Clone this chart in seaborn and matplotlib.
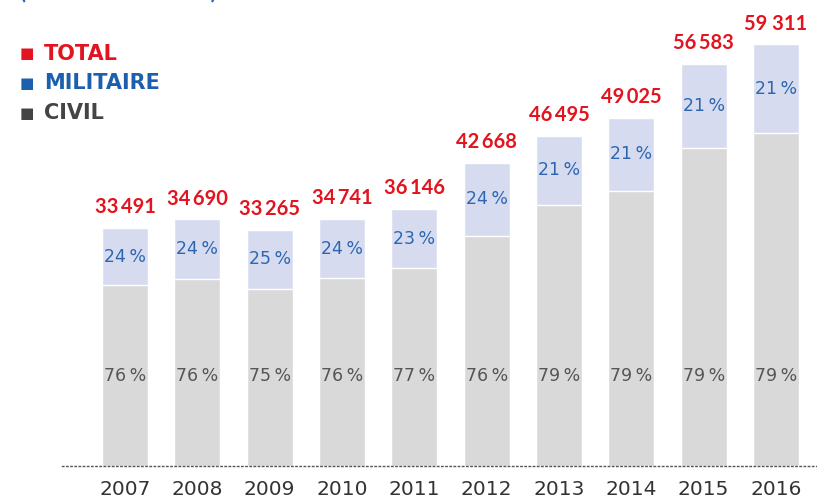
import matplotlib
matplotlib.use("Agg")
import matplotlib.pyplot as plt
import seaborn as sns
import pandas as pd

# data
years = ["2007", "2008", "2009", "2010", "2011", "2012", "2013", "2014", "2015", "2016"]
totals = [33491, 34690, 33265, 34741, 36146, 42668, 46495, 49025, 56583, 59311]
mil_pct = [24, 24, 25, 24, 23, 24, 21, 21, 21, 21]
civ_pct = [76, 76, 75, 76, 77, 76, 79, 79, 79, 79]
total_labels = ["33\u2009491", "34\u2009690", "33\u2009265", "34\u2009741", "36\u2009146",
                "42\u2009668", "46\u2009495", "49\u2009025", "56\u2009583", "59 311"]

RED = "#E2141F"
BLUE = "#1C5FAE"
DARK = "#444444"

df = pd.DataFrame({"year": years, "total": totals, "civ": [t * c / 100 for t, c in zip(totals, civ_pct)]})

sns.set_style("white")
plt.rcParams["font.family"] = ["Lato", "DejaVu Sans"]

fig = plt.figure(figsize=(8.17, 4.97), dpi=100)
ax = fig.add_axes([62 / 817, 31 / 497, 755 / 817, 466 / 497])

sns.barplot(data=df, x="year", y="total", color="#D7DBEF", saturation=1, width=0.64, ax=ax)
sns.barplot(data=df, x="year", y="civ", color="#D9D9D9", saturation=1, width=0.64, ax=ax)

ax.set_xlim(-0.871, 9.567)
ax.set_ylim(0, 65570)
for s in ["top", "right", "left"]:
    ax.spines[s].set_visible(False)
ax.spines["bottom"].set_linestyle((0, (1, 2)))
ax.spines["bottom"].set_color("#555555")
ax.spines["bottom"].set_linewidth(1)
ax.set_yticks([])
ax.set_xlabel("")
ax.set_ylabel("")
ax.tick_params(axis="x", length=0, pad=10, labelcolor="#333333")
for lbl in ax.get_xticklabels():
    lbl.set_fontfamily("DejaVu Sans")
    lbl.set_fontsize(14.5)

for i, (t, civ) in enumerate(zip(totals, df["civ"])):
    ax.text(i, t + 1500, total_labels[i], ha="center", va="bottom", color=RED,
            fontsize=14.5, fontweight="bold")
    ax.text(i, (t + civ) / 2, f"{mil_pct[i]}\u2009%", ha="center", va="center",
            color="#2B67B1", fontsize=12.5, family="DejaVu Sans")
    ax.text(i, 12700, f"{civ_pct[i]}\u2009%", ha="center", va="center",
            color="#555555", fontsize=12.5, family="DejaVu Sans")

# legend
for lab, col, y in [("TOTAL", RED, 54), ("MILITAIRE", BLUE, 83), ("CIVIL", DARK, 113)]:
    fig.text(20 / 817, 1 - y / 497, "\u25A0", color=col, fontsize=11, va="center",
             family="DejaVu Sans")
    fig.text(44 / 817, 1 - y / 497, lab, color=col, fontsize=15, fontweight="bold",
             va="center", family="DejaVu Sans")

# title cut off at the top of the picture, as in the source
fig.text(20 / 817, 1 + 2 / 497, "(en millions d'euros)", color="#2B67B1", fontsize=16,
         fontweight="bold", va="baseline")

fig.savefig("out.png", dpi=100)
